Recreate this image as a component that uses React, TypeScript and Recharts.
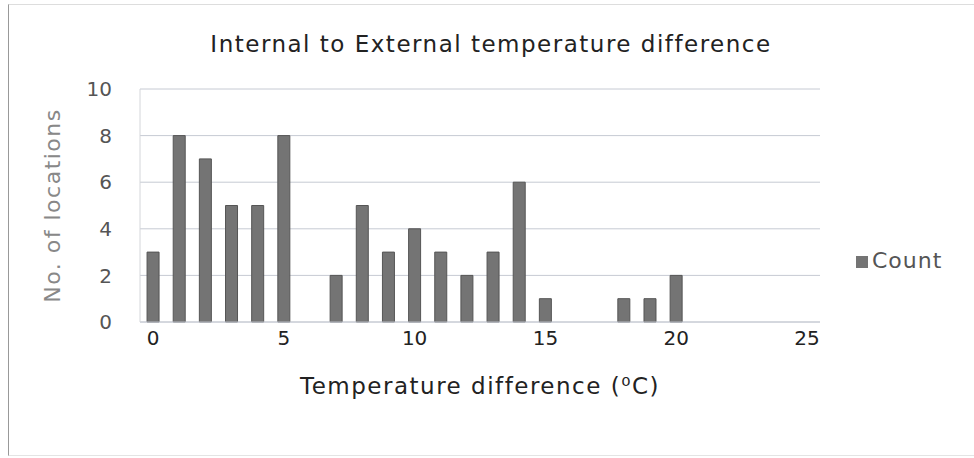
import { BarChart, Bar, XAxis, YAxis, CartesianGrid, Legend } from "recharts";

const diffs = [0, 1, 2, 3, 4, 5, 6, 7, 8, 9, 10, 11, 12, 13, 14, 15, 16, 17, 18, 19, 20, 21, 22, 23, 24, 25];
const counts = [3, 8, 7, 5, 5, 8, 0, 2, 5, 3, 4, 3, 2, 3, 6, 1, 0, 0, 1, 1, 2, 0, 0, 0, 0, 0];
const yTicks = [0, 2, 4, 6, 8, 10];

const data = diffs.map((d, i) => ({ diff: d, Count: counts[i] }));

const font = "'DejaVu Sans', sans-serif";

export default function App() {
  return (
    <div
      style={{
        position: "absolute",
        left: 0,
        top: 0,
        width: 974,
        height: 458,
        background: "#fff",
        fontFamily: font,
      }}
    >
      <div
        style={{
          position: "absolute",
          left: 8,
          top: 4,
          width: 966,
          height: 450,
          borderLeft: "1px solid #999",
          borderTop: "1px solid #ddd",
          borderBottom: "1px solid #e4e4e4",
        }}
      />
      <div
        style={{
          position: "absolute",
          left: 0,
          top: 31,
          width: 982,
          textAlign: "center",
          fontSize: 23,
          letterSpacing: 1.5,
          color: "#222",
        }}
      >
        Internal to External temperature difference
      </div>
      <BarChart
        width={974}
        height={458}
        data={data}
        margin={{ top: 89, right: 44, bottom: 0, left: 0 }}
        barCategoryGap="27%"
        style={{ position: "absolute", left: 0, top: 0, fontFamily: font }}
      >
        <CartesianGrid vertical={false} stroke="#c6cad3" />
        <XAxis
          dataKey="diff"
          interval={4}
          height={136}
          tickLine={false}
          axisLine={{ stroke: "#c6cad3" }}
          tick={{ fontSize: 20, fill: "#222" }}
          tickMargin={3}
          label={{
            value: "Temperature difference (\u2070C)",
            position: "insideBottom",
            offset: 64,
            fontSize: 23,
            fill: "#222",
            style: { letterSpacing: 1.5 },
          }}
        />
        <YAxis
          domain={[0, 10]}
          ticks={yTicks}
          width={140}
          tickLine={false}
          axisLine={{ stroke: "#d4d6da" }}
          tick={{ fontSize: 20, fill: "#555" }}
          tickMargin={22}
          label={{
            value: "No. of locations",
            angle: -90,
            position: "insideLeft",
            offset: 52,
            fontSize: 22,
            fill: "#888",
            style: { textAnchor: "middle", letterSpacing: 1.5 },
          }}
        />
        <Legend
          layout="vertical"
          align="right"
          verticalAlign="middle"
          iconType="square"
          iconSize={12}
          wrapperStyle={{ left: 856, top: 248, width: 110, fontSize: 22, letterSpacing: 1 }}
          formatter={(v) => <span style={{ color: "#555" }}>{v}</span>}
        />
        <Bar dataKey="Count" fill="#747474" stroke="#555" isAnimationActive={false} />
      </BarChart>
    </div>
  );
}
